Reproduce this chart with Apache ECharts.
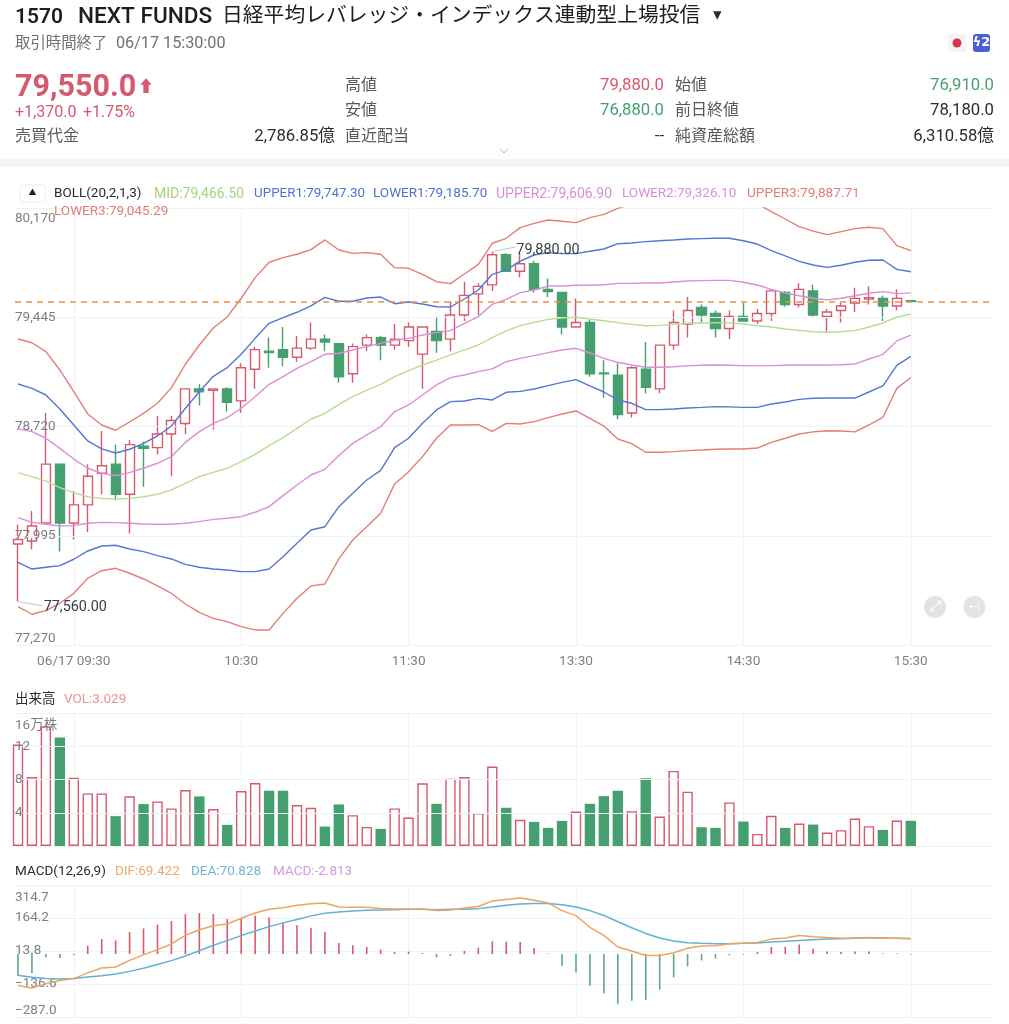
<!DOCTYPE html>
<html lang="ja">
<head>
<meta charset="utf-8">
<title>1570 NEXT FUNDS</title>
<style>html,body{margin:0;padding:0;background:#fff}#chart{width:1009px;height:1024px}</style>
<script src="https://cdn.jsdelivr.net/npm/echarts@6/dist/echarts.min.js"></script>
</head>
<body>
<div id="chart"></div>
<script>
// [open, close, low, high]
const candles = [
[77940,77970,77560,78070],[77960,78060,77905,78160],[78080,78470,78080,78810],[78470,78080,77890,78470],
[78080,78200,77970,78290],[78200,78390,78020,78470],[78410,78460,78270,78690],[78470,78270,78230,78600],
[78270,78600,78010,78630],[78590,78575,78320,78620],[78580,78670,78535,78790],[78670,78760,78390,78790],
[78740,78970,78670,78970],[78970,78950,78860,79000],[78960,78970,78700,78970],[78970,78880,78820,78980],
[78890,79110,78810,79140],[79100,79230,78970,79250],[79220,79210,79110,79310],[79230,79180,79120,79380],
[79180,79240,79150,79320],[79240,79300,79230,79410],[79300,79280,79220,79330],[79270,79050,79010,79270],
[79070,79250,79010,79270],[79260,79310,79220,79330],[79310,79260,79160,79320],[79260,79300,79230,79400],
[79290,79380,79250,79410],[79200,79380,78970,79380],[79350,79290,79210,79450],[79300,79460,79220,79550],
[79460,79590,79420,79680],[79600,79650,79460,79670],[79660,79860,79620,79880],[79860,79750,79750,79870],
[79750,79800,79710,79870],[79800,79630,79610,79820],[79630,79615,79580,79700],[79610,79380,79330,79610],
[79380,79410,79380,79570],[79410,79070,79050,79430],[79075,79070,78910,79160],[79060,78800,78770,79140],
[78810,79110,78780,79120],[79100,78980,78940,79280],[78970,79260,78940,79260],[79260,79410,79230,79490],
[79400,79490,79310,79580],[79510,79460,79410,79530],[79470,79370,79310,79490],[79370,79450,79300,79490],
[79450,79420,79420,79540],[79420,79470,79400,79500],[79470,79620,79420,79620],[79610,79530,79515,79620],
[79530,79630,79510,79670],[79620,79460,79450,79660],[79450,79480,79350,79500],[79490,79520,79410,79540],
[79540,79570,79480,79640],[79565,79575,79530,79650],[79570,79520,79420,79590],[79520,79570,79490,79630],
[79555,79550,79550,79555]];
const upper3 = [79301,79276,79217,79095,78951,78803,78730,78695,78750,78807,78874,78978,79133,79261,79374,79447,79571,79708,79810,79841,79863,79894,79958,79891,79869,79874,79863,79774,79770,79730,79681,79668,79732,79796,79936,79969,80040,80068,80090,80082,80073,80106,80128,80168,80194,80217,80234,80239,80243,80245,80245,80245,80234,80197,80146,80097,80046,80017,79993,80013,80033,80042,80033,79920,79887.71];
const upper1 = [79002,78973,78929,78836,78730,78624,78571,78544,78569,78608,78657,78723,78841,78951,79053,79111,79199,79305,79405,79442,79478,79520,79577,79551,79551,79573,79579,79535,79546,79533,79515,79513,79566,79626,79730,79759,79818,79858,79874,79867,79867,79883,79898,79933,79938,79947,79953,79958,79964,79967,79969,79969,79953,79931,79887,79852,79816,79792,79776,79790,79810,79823,79825,79763,79747.3];
const upper2 = [78704,78686,78642,78575,78504,78443,78409,78394,78414,78443,78476,78520,78615,78686,78741,78779,78841,78918,79000,79051,79106,79150,79199,79206,79228,79250,79272,79292,79305,79327,79343,79356,79405,79449,79531,79564,79608,79626,79652,79652,79657,79657,79661,79670,79670,79672,79672,79679,79686,79688,79690,79690,79677,79659,79630,79606,79588,79571,79560,79571,79588,79604,79615,79602,79606.9];
const mid = [78414,78387,78358,78314,78281,78254,78243,78239,78243,78254,78270,78299,78343,78387,78416,78443,78487,78535,78593,78646,78708,78768,78807,78867,78918,78962,79000,79051,79091,79128,79161,79195,79228,79261,79310,79354,79389,79411,79431,79440,79445,79433,79422,79409,79398,79389,79391,79398,79405,79407,79409,79407,79400,79389,79380,79367,79358,79349,79345,79349,79356,79380,79407,79445,79466.5];
const lower2 = [78115,78084,78071,78060,78062,78078,78084,78082,78078,78073,78071,78071,78078,78089,78104,78111,78122,78151,78188,78261,78332,78398,78436,78527,78608,78664,78719,78819,78863,78929,78996,79044,79062,79084,79102,79150,79172,79190,79210,79228,79239,79208,79172,79146,79128,79113,79113,79117,79122,79126,79128,79126,79124,79122,79124,79126,79128,79128,79128,79130,79135,79168,79199,79288,79326.1];
const lower1 = [77819,77774,77786,77797,77839,77894,77927,77932,77907,77890,77863,77841,77805,77786,77774,77768,77757,77757,77774,77856,77945,78033,78055,78188,78277,78365,78429,78580,78642,78741,78830,78885,78889,78907,78896,78947,78953,78969,78991,79013,79031,78989,78949,78896,78874,78832,78832,78836,78843,78847,78852,78850,78847,78847,78869,78883,78900,78907,78909,78909,78909,78949,78989,79126,79185.7];
const lower3 = [77525,77474,77498,77547,77613,77713,77763,77779,77746,77708,77662,77613,77542,77487,77447,77425,77392,77370,77370,77480,77580,77662,77675,77841,77967,78055,78144,78339,78420,78520,78642,78730,78730,78732,78688,78741,78737,78752,78779,78803,78823,78774,78723,78637,78606,78549,78549,78553,78560,78564,78569,78571,78571,78577,78615,78642,78670,78684,78692,78690,78684,78730,78781,78973,79045.29];
const volume = [12.2,8.3,14.4,13.06,8.2,6.33,6.33,3.59,5.97,5.04,5.36,4.52,6.73,5.97,4.44,2.54,6.61,7.58,6.65,6.65,4.92,4.6,2.34,5.0,3.71,2.3,2.06,4.52,3.43,7.54,5.08,8.1,8.3,3.95,9.56,4.6,3.15,2.9,2.18,3.02,4.15,5.08,6.0,6.65,4.19,8.15,3.55,9.03,6.53,2.26,2.18,5.24,2.94,1.45,3.63,2.18,2.7,2.58,1.61,1.9,3.31,2.38,1.94,3.06,3.029];
const dif = [-144,-155,-135,-121,-112,-86,-64,-59,-29,-4,20,46,85,111,129,137,163,187,204,211,222,229,233,214,213,213,208,205,205,205,198,201,210,217,242,249,255,245,233,198,175,122,85,32,14,-7,-7,6,26,37,38,47,49,53,68,73,84,79,75,72,73,75,72,72,69.422];
const dea = [-97,-106,-111,-114,-112,-105,-99,-91,-79,-65,-48,-30,-9,15,40,61,84,105,125,142,157,174,186,192,196,200,201,202,204,204,202,204,204,207,214,222,228,230,230,225,214,198,176,147,120,94,73,59,52,49,47,47,49,50,55,58,62,65,68,70,72,73,73,72,70.828];
const macdHist = [-99,-87,-15,-18,-5,38,68,62,100,117,134,150,182,187,182,160,164,175,166,144,131,120,100,50,40,33,20,9,11,5,-15,-9,14,29,58,56,55,27,2,-55,-84,-144,-179,-229,-213,-210,-163,-106,-56,-29,-21,-6,-3,9,32,33,44,24,12,9,12,12,3,2,-2.813];
const lastPrice = 79550;
const xTickIndex = [4,16,28,40,52,64];
const xTickLabels = ['06/17 09:30','10:30','11:30','13:30','14:30','15:30'];
const priceTicks = [77270,77995,78720,79445,80170];
const volumeTicks = [0,4,8,12,16];
const macdTicks = [-287.0,-136.6,13.8,164.2,314.7];
const highLeader = [[34,79880],[35.65,79911]];
const lowLeader = [[0,77558],[1.77,77530]];

const RED='#d65a6e', GREEN='#469f6f', AX='#7d7f84', GRID='#f1f2f4';
const CJK='Roboto,"Noto Sans CJK JP",sans-serif';
const gridL=15, gridW=979, xMin=-0.215, xMax=69.965;

function xAxis(gridIndex, showLabel){
  return {type:'value',gridIndex,min:xMin,max:xMax,
    axisLine:{show:false},
    axisTick:{show:false,customValues:xTickIndex},
    splitLine:{show:true,lineStyle:{color:GRID,width:1}},
    axisLabel:{show:showLabel,customValues:xTickIndex,margin:10,color:AX,fontSize:13.6,fontFamily:CJK,hideOverlap:false,
      showMinLabel:true,showMaxLabel:true,
      formatter:v=>xTickLabels[xTickIndex.indexOf(Math.round(v))]||''}};
}
function yAxis(gridIndex,min,max,ticks,fmt,pad){
  return {type:'value',gridIndex,min,max,position:'left',z:3,
    axisLine:{show:false},axisTick:{show:false,customValues:ticks},
    splitLine:{show:true,lineStyle:{color:GRID,width:1}},
    axisLabel:{inside:true,margin:0,customValues:ticks,color:AX,fontSize:13.5,fontFamily:CJK,formatter:fmt,align:'left',
      padding:[pad,0,0,0],
      verticalAlignMinLabel:'bottom',verticalAlignMaxLabel:'top',hideOverlap:false,showMinLabel:true,showMaxLabel:true}};
}
function band(name,vals,color){
  return {name,type:'line',xAxisIndex:0,yAxisIndex:0,data:vals.map((v,i)=>[i,v]),showSymbol:false,symbol:'none',
    lineStyle:{color,width:1.4},itemStyle:{color},z:4,silent:true,clip:true};
}
function leader(name,pts,label,offset){
  return {name,type:'line',xAxisIndex:0,yAxisIndex:0,data:pts,showSymbol:false,symbol:'none',clip:false,z:6,silent:true,
    lineStyle:{color:'#c4c6ca',width:1},
    endLabel:{show:true,formatter:label,color:'#3a3c40',fontSize:14.4,fontFamily:CJK,distance:1,offset}};
}
const DY=2;
const T=(x,y,text,fontSize,fill,o={})=>({type:'text',x,y:y+DY,silent:true,z:20,style:Object.assign({text,fontSize,fill,
  fontFamily:CJK,verticalAlign:'middle',align:'left'},o)});
const DARK='#2a2c30', GREY='#6f7176', LBL='#55585d';
const headerTexts=[
  T(15,15.5,'1570',21,'#1c1e22',{fontWeight:600}),
  T(78,15.5,'NEXT FUNDS',22.6,'#1c1e22',{fontWeight:500}),
  T(222,15,'日経平均レバレッジ・インデックス連動型上場投信',20.8,'#1c1e22',{fontWeight:400}),
  T(713,14,'▾',17,'#2a2c30'),
  T(15,42,'取引時間終了',15.4,GREY),
  T(116,42,'06/17 15:30:00',16.2,GREY),
  T(15,86,'79,550.0',30.5,RED,{fontWeight:700}),
  T(138,86,'⬆',16,RED,{fontWeight:700}),
  T(15,111,'+1,370.0',16,RED),T(83,111,'+1.75%',16,RED),
  T(15,135,'売買代金',16,LBL),T(335,135,'2,786.85億',16.7,DARK,{align:'right'}),
  T(345,84,'高値',16,LBL),T(664,84,'79,880.0',16.7,RED,{align:'right'}),
  T(675,84,'始値',16,LBL),T(994,84,'76,910.0',16.7,GREEN,{align:'right'}),
  T(345,109,'安値',16,LBL),T(664,109,'76,880.0',16.7,GREEN,{align:'right'}),
  T(675,109,'前日終値',16,LBL),T(994,109,'78,180.0',16.7,DARK,{align:'right'}),
  T(345,135,'直近配当',16,LBL),T(664,135,'--',16.7,DARK,{align:'right'}),
  T(675,135,'純資産総額',16,LBL),T(994,135,'6,310.58億',16.7,DARK,{align:'right'}),
  T(54,192,'BOLL(20,2,1,3)',13.5,DARK),
  T(154,192,'MID:79,466.50',14,'#a8d480'),
  T(254,192,'UPPER1:79,747.30',13.4,'#5272d2'),
  T(373,192,'LOWER1:79,185.70',13.5,'#5272d2'),
  T(496,192,'UPPER2:79,606.90',14,'#d78fdb'),
  T(622,192,'LOWER2:79,326.10',13.5,'#d78fdb'),
  T(747,192,'UPPER3:79,887.71',13.6,'#e07f77'),
  T(54,210,'LOWER3:79,045.29',13.5,'#e07f77'),
  T(15,698,'出来高',13.5,DARK),T(64,698,'VOL:3.029',13.5,'#e8919b'),
  T(15,870,'MACD(12,26,9)',13.5,DARK),
  T(115,870,'DIF:69.422',13.5,'#eba868'),
  T(191,870,'DEA:70.828',13.5,'#6bb8d8'),
  T(273,870,'MACD:-2.813',13.5,'#d09ae0')
];
const decor=[
  {type:'rect',shape:{x:0,y:159,width:1009,height:8},style:{fill:'#f4f5f6'},silent:true},
  {type:'polyline',shape:{points:[[500,149],[504,153],[508,149]]},style:{stroke:'#b4b6ba',fill:null,lineWidth:1},silent:true},
  {type:'rect',shape:{x:948,y:34,width:18,height:18,r:2},style:{fill:'#f4f4f5'},silent:true},
  {type:'circle',shape:{cx:957,cy:43,r:4.5},style:{fill:'#d8354a'},silent:true},
  {type:'rect',shape:{x:973,y:34,width:17,height:18,r:3},style:{fill:'#4d5fd8'},silent:true},
  T(981.5,41,'ϟ2',13,'#fff',{align:'center',fontWeight:700,fontFamily:'"DejaVu Sans"'}),
  {type:'rect',shape:{x:20,y:185,width:25,height:17,r:2},style:{fill:'#fff',stroke:'#eceef0',lineWidth:1},silent:true},
  T(32.5,191,'▲',8,'#222',{align:'center'}),
  {type:'circle',shape:{cx:935,cy:607,r:11},style:{fill:'#e1e3e6'},silent:true,z:20},
  T(935,605,'⤢',15,'#fff',{align:'center',fontFamily:'"DejaVu Sans"'}),
  {type:'circle',shape:{cx:974.5,cy:607,r:11},style:{fill:'#e1e3e6'},silent:true,z:20},
  T(974.5,605,'←|',10,'#fff',{align:'center',fontFamily:'"DejaVu Sans"'})
];

const option={
  animation:false,backgroundColor:'#fff',
  graphic:{elements:decor.concat(headerTexts)},
  grid:[
    {left:gridL,width:gridW,top:208,height:437},
    {left:gridL,width:gridW,top:713,height:133},
    {left:gridL,width:gridW,top:885,height:132}
  ],
  xAxis:[xAxis(0,true),xAxis(1,false),xAxis(2,false)],
  yAxis:[
    yAxis(0,priceTicks[0],priceTicks[4],priceTicks,v=>v.toLocaleString('en-US'),4),
    yAxis(1,0,16,volumeTicks,v=>v===16?'16万株':(v===0?'':String(v)),6),
    yAxis(2,macdTicks[0],macdTicks[4],macdTicks,v=>v<0?'−'+Math.abs(v).toFixed(1):v.toFixed(1),6)
  ],
  series:[
    {name:'K',type:'candlestick',xAxisIndex:0,yAxisIndex:0,barWidth:9.6,z:2,silent:true,
      data:candles.map((c,i)=>[i,c[0],c[1],c[2],c[3]]),
      itemStyle:{color:'#ffffff',color0:GREEN,borderColor:RED,borderColor0:GREEN,borderWidth:1.4},
      markLine:{silent:true,symbol:'none',label:{show:false},animation:false,z:5,
        lineStyle:{color:'#e8924a',type:[6,5],width:1.5},data:[{yAxis:lastPrice}]}},
    band('UPPER3',upper3,'#e07f77'),band('UPPER1',upper1,'#5676d0'),band('UPPER2',upper2,'#d98fd6'),
    band('MID',mid,'#b7dd92'),band('LOWER2',lower2,'#d98fd6'),band('LOWER1',lower1,'#5676d0'),band('LOWER3',lower3,'#e07f77'),
    leader('high',highLeader,'79,880.00',[0,3]),
    leader('low',lowLeader,'77,560.00',[0,2]),
    {name:'VOL',type:'bar',xAxisIndex:1,yAxisIndex:1,barWidth:10.4,silent:true,
      data:volume.map((v,i)=>{const up=candles[i][1]>=candles[i][0];
        return {value:[i,v],itemStyle:up?{color:'#fff',borderColor:RED,borderWidth:1.4}:{color:GREEN,borderColor:GREEN,borderWidth:0}};})},
    {name:'MACD',type:'bar',xAxisIndex:2,yAxisIndex:2,barWidth:1.6,silent:true,z:3,
      data:macdHist.map((v,i)=>({value:[i,v],itemStyle:{color:v>=0?RED:'#5fa882'}}))},
    {name:'DEA',type:'line',xAxisIndex:2,yAxisIndex:2,data:dea.map((v,i)=>[i,v]),symbol:'none',lineStyle:{color:'#62b0d6',width:1.5},z:4,silent:true},
    {name:'DIF',type:'line',xAxisIndex:2,yAxisIndex:2,data:dif.map((v,i)=>[i,v]),symbol:'none',lineStyle:{color:'#eba560',width:1.5},z:5,silent:true}
  ]
};
const chart=echarts.init(document.getElementById('chart'),null,{renderer:'canvas'});
chart.setOption(option);
</script>
</body>
</html>
